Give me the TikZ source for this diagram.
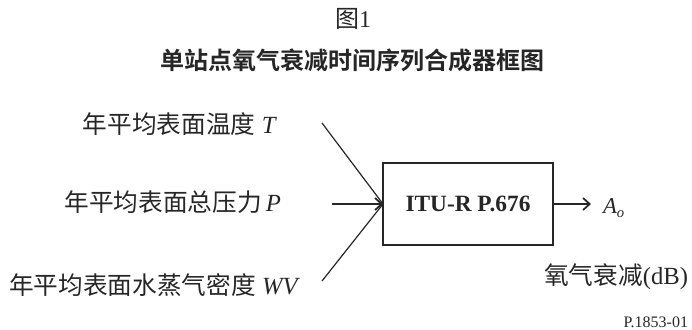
\documentclass[tikz,border=0pt]{standalone}
\usepackage{fontspec}
\setmainfont{Liberation Serif}
\newfontfamily\cjk{Noto Sans CJK SC}
\newfontfamily\cjkb{Noto Sans CJK SC Bold}
\usetikzlibrary{arrows.meta}
\definecolor{ink}{HTML}{262626}
\begin{document}
\begin{tikzpicture}[x=0.75pt,y=-0.75pt,
  every node/.style={inner sep=0pt,outer sep=0pt,text=ink},
  inlabel/.style={anchor=east,font=\fontsize{18.5pt}{21pt}\selectfont},
  conn/.style={draw=ink,line width=0.9pt},
  barb/.style={-{Straight Barb[length=5pt,width=9pt,line width=1.3pt]}},
  blockbox/.style={draw=ink,line width=0.9pt,minimum width=127.5pt,minimum height=61.5pt}]
\useasboundingbox (0,0) rectangle (692,329);
\node (fig) at (353,19) {\fontsize{18pt}{20pt}\selectfont{\cjk 图}1};
\node (title) at (352,60) {\fontsize{18pt}{22pt}\selectfont\cjkb 单站点氧气衰减时间序列合成器框图};
\node[inlabel] (lt) at (277,124) {{\cjk 年平均表面温度} \textit{T}};
\node[inlabel] (lp) at (281,202) {{\cjk 年平均表面总压力}\,\textit{P}};
\node[inlabel] (lw) at (300,285) {{\cjk 年平均表面水蒸气密度} \textit{WV}};
\node[blockbox] (box) at (468,204) {\fontsize{17.5pt}{20pt}\selectfont\bfseries ITU-R P.676};
\coordinate (t0) at (322,123);
\coordinate (p0) at (332,204);
\coordinate (w0) at (322,281);
\coordinate (o1) at (591,204);
\draw[conn] (t0) -- (box.west);
\draw[conn] (w0) -- (box.west);
\draw[conn,barb] (p0) -- (box.west);
\draw[conn,barb] (box.east) -- (o1);
\node[anchor=west] (ao) at (603,208) {\fontsize{17pt}{20pt}\selectfont\textit{A}\raisebox{-3pt}{\fontsize{11pt}{12pt}\selectfont\textit{o}}};
\node[anchor=east] (att) at (688,277) {\fontsize{18.5pt}{21pt}\selectfont{\cjk 氧气衰减}(dB)};
\node[anchor=east] (ref) at (688,322) {\fontsize{12pt}{14pt}\selectfont P.1853-01};
\end{tikzpicture}
\end{document}
